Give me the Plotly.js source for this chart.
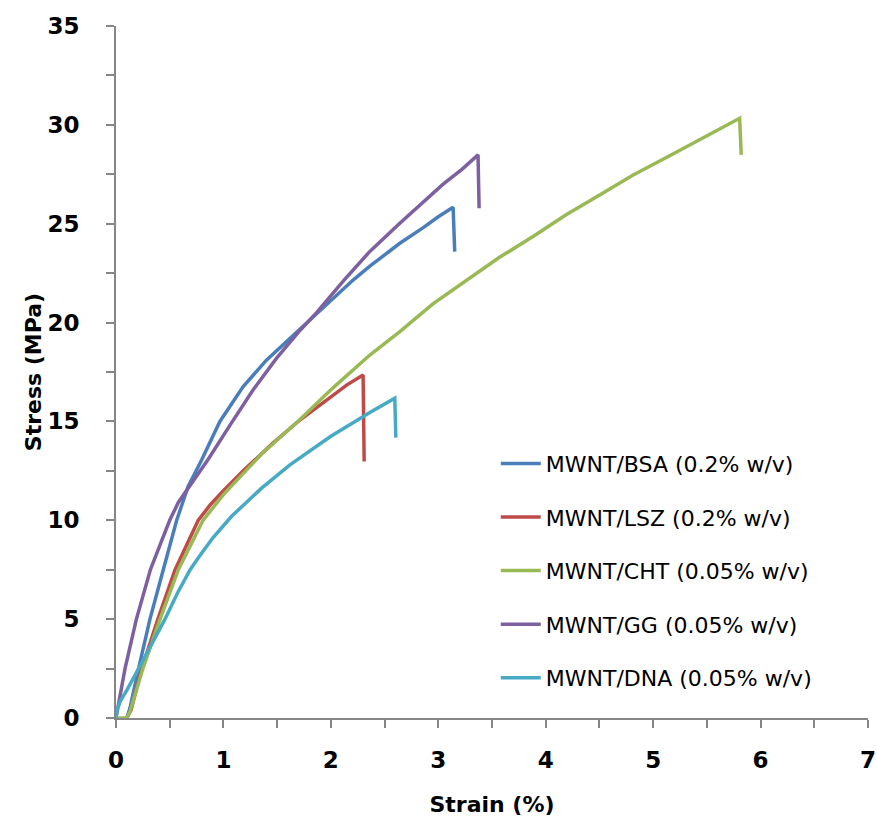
<!DOCTYPE html>
<html><head><meta charset="utf-8">
<script src="https://cdn.plot.ly/plotly-3.0.1.min.js"></script>
<style>html,body{margin:0;padding:0;background:#fff}#chart{width:876px;height:818px}</style>
</head><body><div id="chart"></div>
<script>
const seriesNames = ["MWNT/BSA (0.2% w/v)","MWNT/LSZ (0.2% w/v)","MWNT/CHT (0.05% w/v)","MWNT/GG (0.05% w/v)","MWNT/DNA (0.05% w/v)"];
const bsaStrain = [0.10,0.13,0.21,0.316,0.44,0.565,0.67,0.797,0.967,1.08,1.184,1.40,1.65,1.867,2.207,2.363,2.642,2.86,3.0,3.138,3.153];
const bsaStress = [0,0.5,2.5,5,7.5,10,11.7,13.05,15.0,15.95,16.76,18.1,19.37,20.47,22.15,22.85,24.01,24.8,25.35,25.83,23.59];
const lszStrain = [0.10,0.14,0.24,0.39,0.55,0.766,0.88,1.0,1.184,1.45,1.712,2.02,2.15,2.30,2.31];
const lszStress = [0,0.4,2.5,5,7.5,10,10.8,11.5,12.5,13.85,15.07,16.35,16.85,17.35,12.97];
const chtStrain = [0.02,0.10,0.13,0.25,0.41,0.58,0.81,1.0,1.216,1.355,1.712,2.02,2.363,2.642,2.95,3.262,3.57,3.882,4.19,4.502,4.81,5.123,5.46,5.805,5.82];
const chtStress = [0,0,0.32,2.5,5,7.5,10,11.3,12.55,13.35,15.1,16.7,18.36,19.54,20.95,22.15,23.3,24.35,25.45,26.45,27.45,28.35,29.35,30.33,28.48];
const ggStrain = [0,0.084,0.19,0.32,0.42,0.50,0.58,0.76,0.86,1.06,1.277,1.495,1.712,1.867,2.115,2.363,2.642,3.045,3.22,3.37,3.38];
const ggStress = [0,2.5,5,7.5,8.9,10,10.9,12.3,13.1,14.8,16.6,18.2,19.6,20.5,22.1,23.6,25.02,27.0,27.75,28.48,25.78];
const dnaStrain = [0,0.01,0.04,0.10,0.21,0.33,0.456,0.57,0.69,0.78,0.90,1.076,1.35,1.619,2.0,2.363,2.595,2.605];
const dnaStress = [0,0.4,0.85,1.4,2.5,3.75,5,6.3,7.5,8.2,9.1,10.2,11.6,12.8,14.25,15.45,16.17,14.18];
const colors = ["#4A7EBB","#BE4B48","#98B954","#7D60A0","#46AAC5"];

const xs=[bsaStrain,lszStrain,chtStrain,ggStrain,dnaStrain];
const ys=[bsaStress,lszStress,chtStress,ggStress,dnaStress];
const traces = seriesNames.map((n,i)=>({
  x: xs[i], y: ys[i], name: n, type:'scatter', mode:'lines',
  legendgroup: 'g'+i,
  line:{color:colors[i], width:3.5, shape:'linear'}
}));
const tickFont = {family:'"DejaVu Sans", sans-serif', size:23, color:'#000', weight:'bold'};
const axisCommon = {
  showgrid:false, zeroline:false, showline:true, linecolor:'#868686', linewidth:2,
  ticks:'outside', ticklen:8, tickwidth:2, tickcolor:'#868686',
  tickfont: tickFont, ticklabeloverflow:'allow'
};
const layout = {
  width:876, height:818,
  margin:{l:116, r:8, t:26, b:100},
  paper_bgcolor:'#fff', plot_bgcolor:'#fff',
  font:{family:'"DejaVu Sans", sans-serif', color:'#000'},
  xaxis: Object.assign({}, axisCommon, {
    range:[0,7], dtick:1, tick0:0, ticklabelstandoff:12,
    minor:{dtick:0.5, ticks:'outside', ticklen:8, tickwidth:2, tickcolor:'#868686'},
    title:{text:'Strain (%)', font:{size:22, family:'"DejaVu Sans", sans-serif', weight:'bold', color:'#000'}, standoff:25}
  }),
  yaxis: Object.assign({}, axisCommon, {
    range:[0,35], dtick:5, tick0:0, ticklabelstandoff:22,
    minor:{dtick:2.5, ticks:'outside', ticklen:8, tickwidth:2, tickcolor:'#868686'},
    title:{text:'Stress (MPa)', font:{size:22, family:'"DejaVu Sans", sans-serif', weight:'bold', color:'#000'}, standoff:0}
  }),
  showlegend:true,
  legend:{x:0.505, y:0.398, xanchor:'left', yanchor:'top', bgcolor:'rgba(0,0,0,0)',
    font:{size:22, family:'"DejaVu Sans", sans-serif', color:'#000'},
    traceorder:'grouped', tracegroupgap:22, itemwidth:40}
};
Plotly.newPlot('chart', traces, layout, {displayModeBar:false, staticPlot:true});
</script></body></html>
